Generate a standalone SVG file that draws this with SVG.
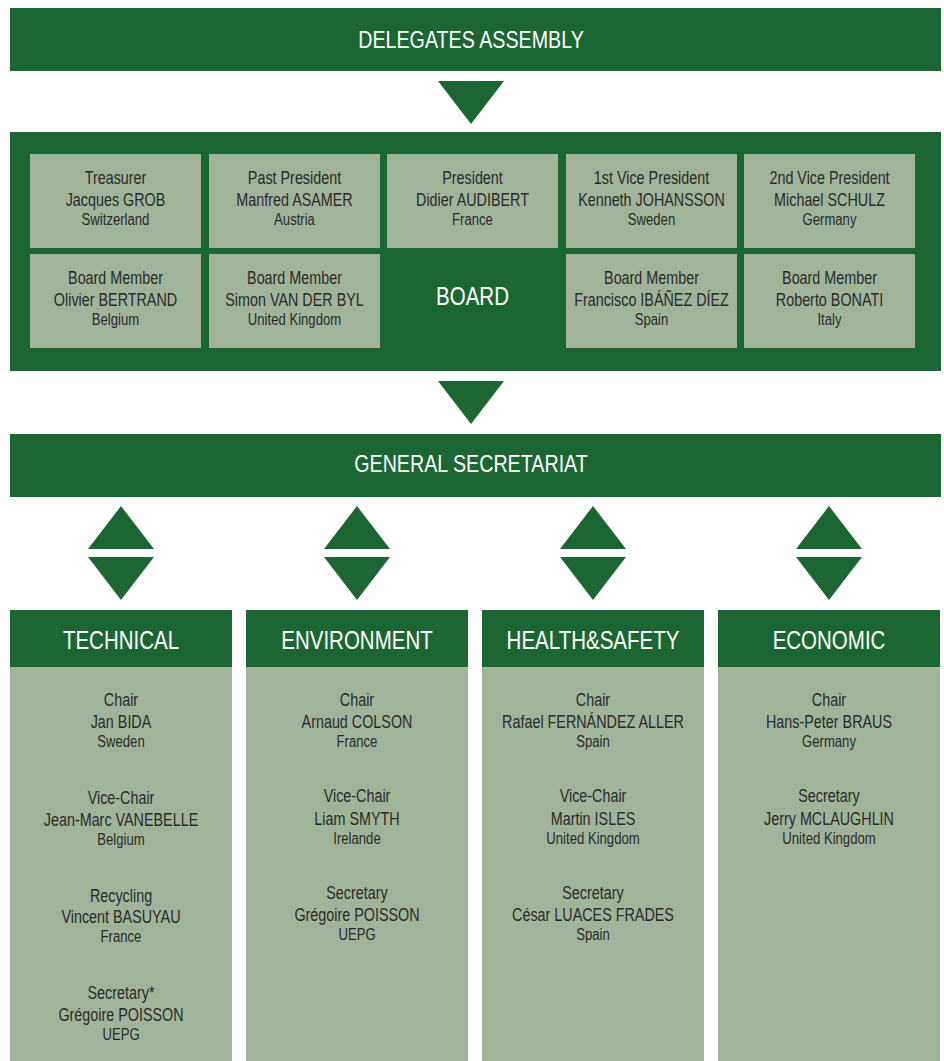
<svg xmlns="http://www.w3.org/2000/svg" width="944" height="1061" viewBox="0 0 944 1061">
<style>
text{font-family:"Liberation Sans",Arial,sans-serif;text-anchor:middle}
.g{fill:#1c6633}
.s{fill:#a1b49b}
.w{fill:#ffffff}
.big{font-size:24px}
.hd{font-size:25px}
.m{font-size:17.5px;fill:#2b2b2b}
.c{font-size:16px;fill:#2b2b2b}
</style>
<rect width="944" height="1061" fill="#ffffff"/>
<g id="delegates-assembly">
<rect class="g" x="10" y="8" width="931" height="63"/>
<g transform="translate(471 0) scale(0.82 1)"><text class="w big" y="48">DELEGATES ASSEMBLY</text></g>
</g>
<g id="board">
<rect class="g" x="10" y="132" width="931" height="239"/>
<g transform="translate(472.5 0) scale(0.82 1)"><text class="w hd" y="305">BOARD</text></g>
</g>
<g id="treasurer"><rect class="s" x="30" y="154" width="171" height="94"/>
<g transform="translate(115.5 0) scale(0.82 1)"><text class="m" y="184">Treasurer</text><text class="m" y="206">Jacques GROB</text><text class="c" y="225">Switzerland</text></g></g>
<g id="past-president"><rect class="s" x="209" y="154" width="171" height="94"/>
<g transform="translate(294.5 0) scale(0.82 1)"><text class="m" y="184">Past President</text><text class="m" y="206">Manfred ASAMER</text><text class="c" y="225">Austria</text></g></g>
<g id="president"><rect class="s" x="387" y="154" width="171" height="94"/>
<g transform="translate(472.5 0) scale(0.82 1)"><text class="m" y="184">President</text><text class="m" y="206">Didier AUDIBERT</text><text class="c" y="225">France</text></g></g>
<g id="vice-president-1"><rect class="s" x="566" y="154" width="171" height="94"/>
<g transform="translate(651.5 0) scale(0.82 1)"><text class="m" y="184">1st Vice President</text><text class="m" y="206">Kenneth JOHANSSON</text><text class="c" y="225">Sweden</text></g></g>
<g id="vice-president-2"><rect class="s" x="744" y="154" width="171" height="94"/>
<g transform="translate(829.5 0) scale(0.82 1)"><text class="m" y="184">2nd Vice President</text><text class="m" y="206">Michael SCHULZ</text><text class="c" y="225">Germany</text></g></g>
<g id="board-member-bertrand"><rect class="s" x="30" y="254" width="171" height="94"/>
<g transform="translate(115.5 0) scale(0.82 1)"><text class="m" y="284">Board Member</text><text class="m" y="306">Olivier BERTRAND</text><text class="c" y="325">Belgium</text></g></g>
<g id="board-member-vanderbyl"><rect class="s" x="209" y="254" width="171" height="94"/>
<g transform="translate(294.5 0) scale(0.82 1)"><text class="m" y="284">Board Member</text><text class="m" y="306">Simon VAN DER BYL</text><text class="c" y="325">United Kingdom</text></g></g>
<g id="board-member-ibanez"><rect class="s" x="566" y="254" width="171" height="94"/>
<g transform="translate(651.5 0) scale(0.82 1)"><text class="m" y="284">Board Member</text><text class="m" y="306">Francisco IBÁÑEZ DÍEZ</text><text class="c" y="325">Spain</text></g></g>
<g id="board-member-bonati"><rect class="s" x="744" y="254" width="171" height="94"/>
<g transform="translate(829.5 0) scale(0.82 1)"><text class="m" y="284">Board Member</text><text class="m" y="306">Roberto BONATI</text><text class="c" y="325">Italy</text></g></g>
<g id="general-secretariat">
<rect class="g" x="10" y="434" width="931" height="63"/>
<g transform="translate(471 0) scale(0.82 1)"><text class="w big" y="472">GENERAL SECRETARIAT</text></g>
</g>
<g id="connectors" class="g">
<polygon points="438,81 504,81 471,124"/>
<polygon points="438,381 504,381 471,424"/>
<polygon points="88,549 154,549 121,506"/><polygon points="88,557 154,557 121,600"/>
<polygon points="324,549 390,549 357,506"/><polygon points="324,557 390,557 357,600"/>
<polygon points="560,549 626,549 593,506"/><polygon points="560,557 626,557 593,600"/>
<polygon points="796,549 862,549 829,506"/><polygon points="796,557 862,557 829,600"/>
</g>
<g id="technical">
<rect class="s" x="10" y="610" width="222" height="451"/>
<rect class="g" x="10" y="610" width="222" height="57"/>
<g transform="translate(121 0) scale(0.82 1)">
<text class="w hd" y="649">TECHNICAL</text>
<text class="m" y="706">Chair</text><text class="m" y="728">Jan BIDA</text><text class="c" y="747">Sweden</text>
<text class="m" y="804">Vice-Chair</text><text class="m" y="826">Jean-Marc VANEBELLE</text><text class="c" y="845">Belgium</text>
<text class="m" y="902">Recycling</text><text class="m" y="923">Vincent BASUYAU</text><text class="c" y="942">France</text>
<text class="m" y="999">Secretary*</text><text class="m" y="1021">Grégoire POISSON</text><text class="c" y="1040">UEPG</text>
</g></g>
<g id="environment">
<rect class="s" x="246" y="610" width="222" height="451"/>
<rect class="g" x="246" y="610" width="222" height="57"/>
<g transform="translate(357 0) scale(0.82 1)">
<text class="w hd" y="649">ENVIRONMENT</text>
<text class="m" y="706">Chair</text><text class="m" y="728">Arnaud COLSON</text><text class="c" y="747">France</text>
<text class="m" y="802">Vice-Chair</text><text class="m" y="825">Liam SMYTH</text><text class="c" y="844">Irelande</text>
<text class="m" y="899">Secretary</text><text class="m" y="921">Grégoire POISSON</text><text class="c" y="940">UEPG</text>
</g></g>
<g id="health-safety">
<rect class="s" x="482" y="610" width="222" height="451"/>
<rect class="g" x="482" y="610" width="222" height="57"/>
<g transform="translate(593 0) scale(0.82 1)">
<text class="w hd" y="649">HEALTH&amp;SAFETY</text>
<text class="m" y="706">Chair</text><text class="m" y="728">Rafael FERNÁNDEZ ALLER</text><text class="c" y="747">Spain</text>
<text class="m" y="802">Vice-Chair</text><text class="m" y="825">Martin ISLES</text><text class="c" y="844">United Kingdom</text>
<text class="m" y="899">Secretary</text><text class="m" y="921">César LUACES FRADES</text><text class="c" y="940">Spain</text>
</g></g>
<g id="economic">
<rect class="s" x="718" y="610" width="222" height="451"/>
<rect class="g" x="718" y="610" width="222" height="57"/>
<g transform="translate(829 0) scale(0.82 1)">
<text class="w hd" y="649">ECONOMIC</text>
<text class="m" y="706">Chair</text><text class="m" y="728">Hans-Peter BRAUS</text><text class="c" y="747">Germany</text>
<text class="m" y="802">Secretary</text><text class="m" y="825">Jerry MCLAUGHLIN</text><text class="c" y="844">United Kingdom</text>
</g></g>
</svg>
